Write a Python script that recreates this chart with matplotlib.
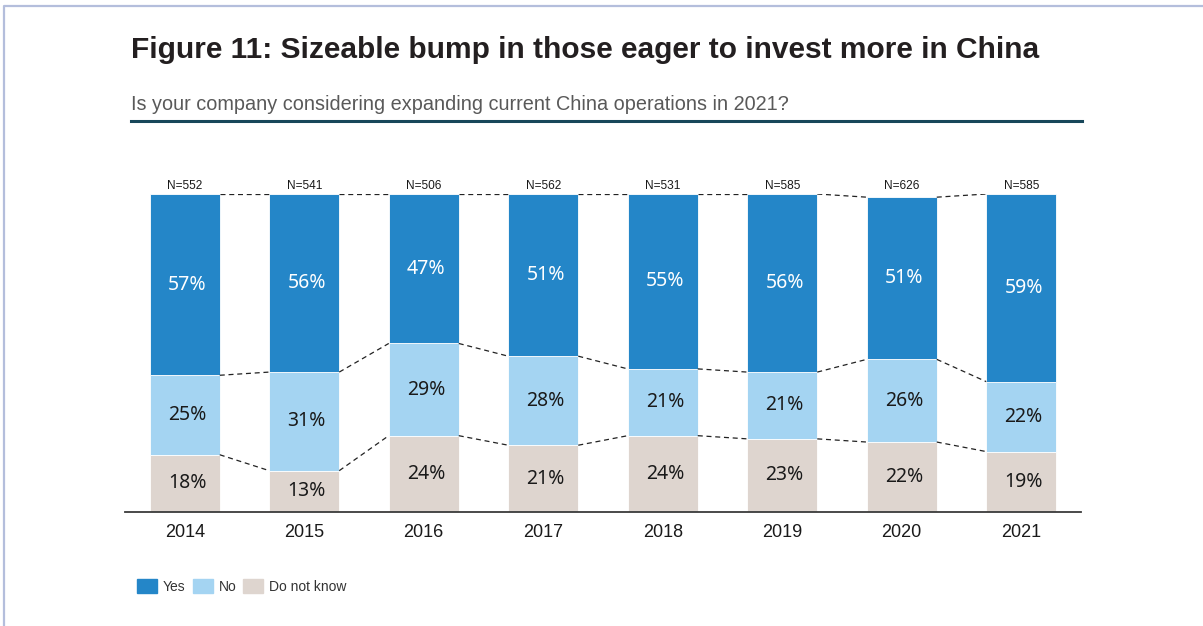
import numpy as np
import matplotlib.pyplot as plt
from matplotlib.lines import Line2D
from matplotlib.patches import Patch

years = ["2014", "2015", "2016", "2017", "2018", "2019", "2020", "2021"]
n_resp = [552, 541, 506, 562, 531, 585, 626, 585]
dont_know = [18, 13, 24, 21, 24, 23, 22, 19]
no = [25, 31, 29, 28, 21, 21, 26, 22]
yes = [57, 56, 47, 51, 55, 56, 51, 59]

c_yes = "#2486c8"
c_no = "#a4d4f2"
c_dk = "#ded5cf"

plt.rcParams["font.family"] = ["Liberation Sans", "DejaVu Sans"]

fig = plt.figure(figsize=(12.03, 6.26), dpi=100)
ax = fig.add_axes([125 / 1203, 1 - 512 / 626, 956 / 1203, 318 / 626])

x = np.arange(len(years))
w = 0.586
dk = np.array(dont_know)
nn = np.array(no)
ys = np.array(yes)

ax.bar(x, dk, w, color=c_dk, edgecolor="white", linewidth=0.6)
ax.bar(x, nn, w, bottom=dk, color=c_no, edgecolor="white", linewidth=0.6)
ax.bar(x, ys, w, bottom=dk + nn, color=c_yes, edgecolor="white", linewidth=0.6)

# dashed connectors between neighbouring bars
for level in (dk, dk + nn, dk + nn + ys):
    for i in range(len(x) - 1):
        ax.plot([x[i] + w / 2, x[i + 1] - w / 2], [level[i], level[i + 1]],
                color="#222222", lw=0.9, ls=(0, (4, 3)), zorder=1)

pct_font = dict(family=["Noto Sans", "DejaVu Sans"], fontsize=14,
                ha="center", va="center")
for i in range(len(x)):
    ax.text(x[i] + 0.02, dk[i] / 2, f"{dk[i]}%", color="#1a1a1a", **pct_font)
    ax.text(x[i] + 0.02, dk[i] + nn[i] / 2, f"{nn[i]}%", color="#1a1a1a", **pct_font)
    ax.text(x[i] + 0.02, dk[i] + nn[i] + ys[i] / 2, f"{ys[i]}%", color="white", **pct_font)
    ax.annotate(f"N={n_resp[i]}", (x[i], 100), xytext=(0, 3.6),
                textcoords="offset points", ha="center", va="baseline",
                fontsize=8.6, color="#1a1a1a", annotation_clip=False)

ax.set_xlim(-0.5, 7.5)
ax.set_ylim(0, 100)
ax.set_xticks(x)
ax.set_xticklabels(years, fontsize=13, color="#1a1a1a")
ax.tick_params(axis="x", length=0, pad=8.5)
ax.set_yticks([])
for s in ("top", "right", "left"):
    ax.spines[s].set_visible(False)
ax.spines["bottom"].set_color("#3a3a3a")
ax.spines["bottom"].set_linewidth(1.3)

handles = [Patch(color=c_yes, label="Yes"), Patch(color=c_no, label="No"),
           Patch(color=c_dk, label="Do not know")]
fig.legend(handles=handles, loc="center left",
           bbox_to_anchor=(137 / 1203, 1 - 586.5 / 626), ncol=3, frameon=False,
           fontsize=10, handlelength=1.44, handleheight=1.08,
           handletextpad=0.43, columnspacing=0.5, borderpad=0,
           borderaxespad=0, labelcolor="#333333")

fig.text(131 / 1203, 1 - 58 / 626, "Figure 11: Sizeable bump in those eager to invest more in China",
         fontsize=21.5, fontweight="bold", color="#231f20", va="baseline")
fig.text(131 / 1203, 1 - 110 / 626,
         "Is your company considering expanding current China operations in 2021?",
         fontsize=14.3, color="#595959", va="baseline")
fig.add_artist(Line2D([131 / 1203, 1082 / 1203], [1 - 120.5 / 626] * 2,
                      color="#17475a", lw=2.2, transform=fig.transFigure))

# page frame on the left and top
fig.add_artist(Line2D([4 / 1203, 4 / 1203, 1], [0, 1 - 6 / 626, 1 - 6 / 626],
                      color="#b4bedc", lw=1.6, transform=fig.transFigure))

fig.savefig("out.png", dpi=100)
